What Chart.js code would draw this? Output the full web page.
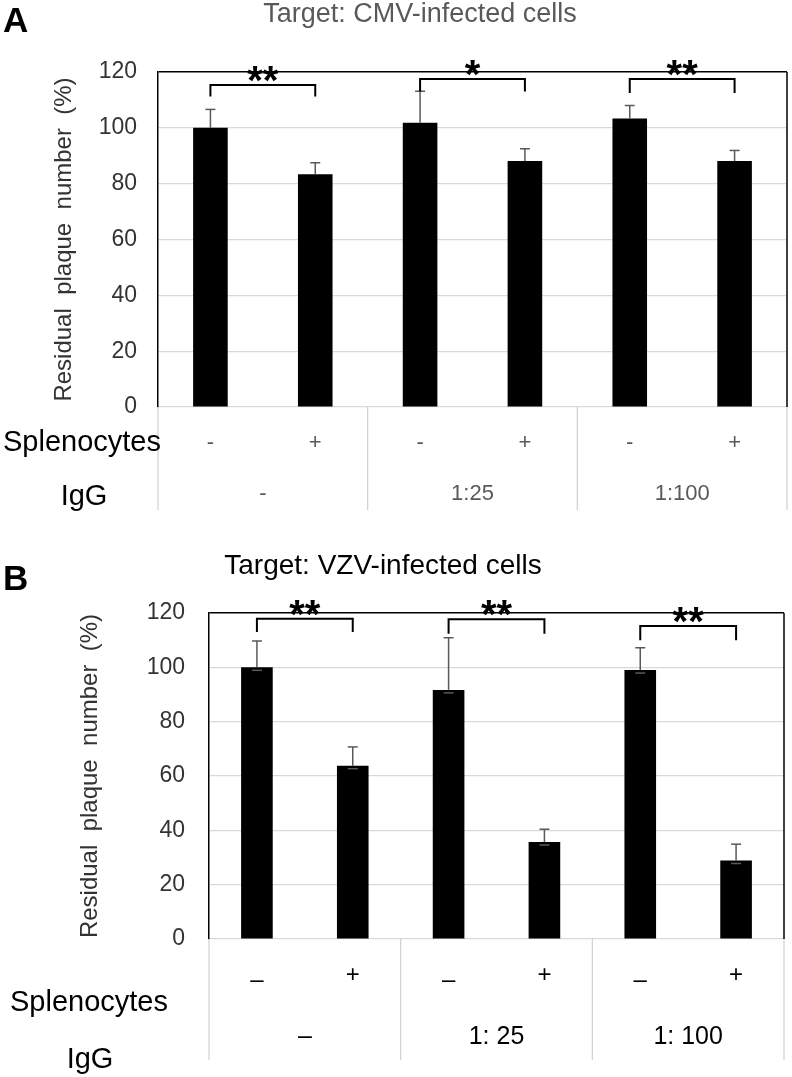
<!DOCTYPE html>
<html>
<head>
<meta charset="utf-8">
<script src="https://cdn.jsdelivr.net/npm/chart.js@4.4.1/dist/chart.umd.min.js"></script>
<style>
  html, body { margin:0; padding:0; background:#fff; }
  #wrap { position:relative; width:792px; height:1077px; }
  canvas { position:absolute; left:0; }
  #cA { top:0; }
  #cB { top:530px; }
</style>
</head>
<body>
<div id="wrap">
  <canvas id="cA" width="792" height="530"></canvas>
  <canvas id="cB" width="792" height="547"></canvas>
</div>
<script>
// datos
const categories = ['c1', 'c2', 'c3', 'c4', 'c5', 'c6'];
const splenA = ['-', '+', '-', '+', '-', '+'];
const splenB = ['\u2013', '+', '\u2013', '+', '\u2013', '+'];
const iggA = ['-', '1:25', '1:100'];
const iggB = ['\u2013', '1: 25', '1: 100'];

const cmvMean = [100, 83.4, 101.8, 88.1, 103.3, 88.1];
const cmvErr  = [6.6, 4.1, 11.3, 4.4, 4.7, 3.8];
const vzvMean = [100, 63.8, 91.7, 35.7, 99, 28.9];
const vzvErr  = [9.7, 6.9, 19.2, 4.7, 8.2, 6.0];

// corchetes de significancia: nivel horizontal y fin de las patas (en %)
const cmvSig = ['**', '*', '**'];
const cmvBracket = [115.3, 117.5, 117.5];
const cmvLeg = [111.2, 113, 112.5];
const vzvSig = ['**', '**', '**'];
const vzvBracket = [117.9, 117.7, 115.2];
const vzvLeg = [113, 112.4, 110];

const yTicks = [0, 20, 40, 60, 80, 100, 120];

const FONT = '"Liberation Sans", Arial, sans-serif';

function txt(ctx, s, x, y, font, color, align, base){
  ctx.save();
  ctx.font = font; ctx.fillStyle = color;
  ctx.textAlign = align || 'center'; ctx.textBaseline = base || 'middle';
  ctx.fillText(s, x, y);
  ctx.restore();
}

function line(ctx, x1, y1, x2, y2, color, w){
  ctx.save();
  ctx.strokeStyle = color; ctx.lineWidth = w;
  ctx.beginPath(); ctx.moveTo(x1, y1); ctx.lineTo(x2, y2); ctx.stroke();
  ctx.restore();
}

// plugin para barras de error, corchetes, tabla y titulos
function panelPlugin(cfg){
  return {
    id: 'panel' + cfg.letter,
    afterDraw(chart){
      const ctx = chart.ctx;
      const a = chart.chartArea;
      const ys = chart.scales.y;
      const meta = chart.getDatasetMeta(0);
      const xs = meta.data.map(b => b.x);

      // borde derecho
      line(ctx, a.right, a.top, a.right, a.bottom, '#000', 1.5);

      // barras de error
      cfg.mean.forEach((m, i) => {
        const y0 = ys.getPixelForValue(m);
        const y1 = ys.getPixelForValue(m + cfg.err[i]);
        line(ctx, xs[i], y0, xs[i], y1, '#595959', 1.5);
        line(ctx, xs[i] - 5, y1, xs[i] + 5, y1, '#595959', 1.5);
        if (cfg.lowCap) line(ctx, xs[i] - 5, y0 + 3, xs[i] + 5, y0 + 3, '#595959', 1.5);
      });

      // corchetes
      cfg.sig.forEach((s, g) => {
        const xl = xs[2 * g], xr = xs[2 * g + 1];
        const yb = ys.getPixelForValue(cfg.bracket[g]);
        const yl = ys.getPixelForValue(cfg.leg[g]);
        ctx.save();
        ctx.strokeStyle = '#000'; ctx.lineWidth = 2;
        ctx.beginPath();
        ctx.moveTo(xl, yl); ctx.lineTo(xl, yb); ctx.lineTo(xr, yb); ctx.lineTo(xr, yl);
        ctx.stroke();
        ctx.restore();
        txt(ctx, s, (xl + xr) / 2, yb - 12 + 0.57 * 40 - 2, 'bold 40px ' + FONT, '#000', 'center', 'alphabetic');
      });

      // tabla inferior
      const tb = a.bottom + cfg.tableH;
      const bounds = [a.left, (xs[1] + xs[2]) / 2, (xs[3] + xs[4]) / 2, a.right];
      bounds.forEach(x => line(ctx, x, a.bottom, x, tb, '#d0d0d0', 1.2));
      cfg.splen.forEach((s, i) => {
        const yy = a.bottom + (s === '+' ? cfg.plusY : cfg.signY);
        txt(ctx, s, xs[i], yy, cfg.signFont, cfg.signColor);
      });
      cfg.igg.forEach((s, g) => {
        txt(ctx, s, (xs[2 * g] + xs[2 * g + 1]) / 2, a.bottom + cfg.iggY, cfg.valFont, cfg.signColor);
      });
      txt(ctx, 'Splenocytes', cfg.splenX, a.bottom + cfg.splenLabY, cfg.labFont, '#000', 'left');
      txt(ctx, 'IgG', cfg.iggX, a.bottom + cfg.iggLabY, cfg.labFont, '#000', 'center');

      // letra del panel y titulo
      txt(ctx, cfg.letter, 3, cfg.letterY, 'bold 35px ' + FONT, '#000', 'left', 'alphabetic');
      txt(ctx, cfg.title, cfg.titleX, cfg.titleY, cfg.titleFont, cfg.titleColor);
    }
  };
}

function makeChart(id, cfg){
  return new Chart(document.getElementById(id), {
    type: 'bar',
    data: {
      labels: categories,
      datasets: [{
        data: cfg.mean,
        backgroundColor: '#000',
        borderWidth: 0,
        barPercentage: 0.33,
        categoryPercentage: 1
      }]
    },
    options: {
      responsive: false,
      animation: false,
      devicePixelRatio: 1,
      layout: { padding: cfg.padding },
      plugins: { legend: { display: false }, tooltip: { enabled: false } },
      scales: {
        x: { display: false },
        y: {
          min: 0, max: 120,
          afterBuildTicks: s => { s.ticks = yTicks.map(v => ({ value: v })); },
          afterFit: s => { s.width = cfg.axisW; },
          border: { color: '#000', width: 1.5 },
          grid: {
            drawTicks: false,
            color: c => c.tick && c.tick.value === 120 ? '#000' : '#d9d9d9',
            lineWidth: c => c.tick && c.tick.value === 120 ? 1.5 : 1.2
          },
          ticks: { padding: cfg.tickPad, color: '#333', font: { family: FONT, size: cfg.tickSize } },
          title: {
            display: true, text: 'Residual  plaque  number  (%)',
            color: '#333', padding: 0,
            font: { family: FONT, size: 24 }
          }
        }
      }
    },
    plugins: [panelPlugin(cfg)]
  });
}

makeChart('cA', {
  letter: 'A', letterY: 32,
  title: 'Target: CMV-infected cells', titleX: 420, titleY: 15,
  titleFont: '27px ' + FONT, titleColor: '#595959',
  mean: cmvMean, err: cmvErr, lowCap: false,
  sig: cmvSig, bracket: cmvBracket, leg: cmvLeg,
  splen: splenA, igg: iggA,
  signFont: '22px ' + FONT, valFont: '22px ' + FONT, signColor: '#595959',
  signY: 36, plusY: 36, iggY: 87, tableH: 103,
  labFont: '29px ' + FONT,
  splenX: 3, splenLabY: 36, iggX: 84, iggLabY: 90,
  padding: { top: 72, bottom: 123, left: 50, right: 5 },
  axisW: 108, tickPad: 21, tickSize: 23
});

makeChart('cB', {
  letter: 'B', letterY: 60,
  title: 'Target: VZV-infected cells', titleX: 383, titleY: 36,
  titleFont: '28px ' + FONT, titleColor: '#000',
  mean: vzvMean, err: vzvErr, lowCap: true,
  sig: vzvSig, bracket: vzvBracket, leg: vzvLeg,
  splen: splenB, igg: iggB,
  signFont: '24px ' + FONT, valFont: '25px ' + FONT, signColor: '#000',
  signY: 41, plusY: 36, iggY: 98, tableH: 121,
  labFont: '29px ' + FONT,
  splenX: 10, splenLabY: 64, iggX: 90, iggLabY: 121,
  padding: { top: 83, bottom: 138, left: 76, right: 8 },
  axisW: 133, tickPad: 24, tickSize: 23
});
</script>
</body>
</html>
